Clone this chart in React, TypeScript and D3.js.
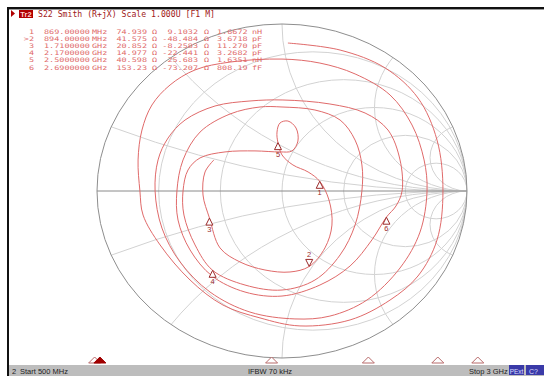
import React from 'react';
import * as d3 from 'd3';

const W = 544;
const H = 376;

const traceRe = [
  0.032, 0.314, 0.557, 0.735, 0.838, 0.870, 0.838, 0.735, 0.584, 0.368, 0.097, -0.119, -0.319, -0.497, -0.659, -0.751, -0.768, -0.778, -0.757, -0.703, -0.605, -0.470, -0.281, 0.0,
  0.205, 0.395, 0.584, 0.703, 0.768, 0.784, 0.746, 0.638, 0.459, 0.259, 0.070, -0.173, -0.389, -0.551, -0.649, -0.686, -0.670, -0.616, -0.524, -0.362, -0.173, 0.005,
  0.259, 0.449, 0.573, 0.638, 0.649, 0.616, 0.564, 0.486, 0.368, 0.205, 0.0, -0.200, -0.378, -0.497, -0.562, -0.568, -0.535, -0.443, -0.281, -0.119, 0.0,
  0.178, 0.314, 0.395, 0.432, 0.432, 0.395, 0.314, 0.178, 0.0, -0.200, -0.375, -0.470, -0.530, -0.535, -0.508, -0.443, -0.308, -0.146, -0.011,
  0.054, 0.086, 0.076, 0.032, -0.011, -0.027, -0.022, 0.0, 0.059, 0.141, 0.204, 0.254, 0.270, 0.232, 0.147, 0.043, -0.092, -0.227, -0.335, -0.392, -0.427, -0.416, -0.368,
];
const traceIm = [
  0.886, 0.844, 0.737, 0.557, 0.305, 0.0, -0.293, -0.509, -0.653, -0.772, -0.808, -0.760, -0.683, -0.533, -0.323, -0.144, 0.0, 0.186, 0.365, 0.515, 0.635, 0.725, 0.772, 0.790,
  0.766, 0.701, 0.575, 0.395, 0.186, 0.0, -0.246, -0.461, -0.653, -0.749, -0.766, -0.725, -0.605, -0.425, -0.222, 0.0, 0.186, 0.317, 0.425, 0.509, 0.539, 0.545,
  0.521, 0.467, 0.365, 0.186, 0.0, -0.090, -0.157, -0.293, -0.449, -0.563, -0.629, -0.605, -0.509, -0.353, -0.174, 0.0, 0.186, 0.353, 0.461, 0.503, 0.503,
  0.485, 0.425, 0.305, 0.156, 0.0, -0.204, -0.383, -0.533, -0.593, -0.563, -0.475, -0.323, -0.144, 0.0, 0.126, 0.198, 0.234, 0.240, 0.234,
  0.240, 0.299, 0.377, 0.419, 0.407, 0.353, 0.290, 0.216, 0.156, 0.114, 0.058, -0.054, -0.204, -0.341, -0.452, -0.485, -0.473, -0.425, -0.341, -0.162, -0.024, 0.114, 0.186,
];

// Markers
const markerIds = ['1', '>2', '3', '4', '5', '6'];
const markerNums = ['1', '2', '3', '4', '5', '6'];
const markerGHz = [0.869, 0.894, 1.71, 2.17, 2.5, 2.69];
const markerFreqText = ['869.00000', '894.00000', '1.7100000', '2.1700000', '2.5000000', '2.6900000'];
const markerFreqUnit = ['MHz', 'MHz', 'GHz', 'GHz', 'GHz', 'GHz'];
const markerR = [74.939, 41.575, 20.852, 14.977, 40.598, 153.23];
const markerX = [9.1032, -48.484, -8.2583, -22.441, 25.683, -73.207];
const markerRText = ['74.939', '41.575', '20.852', '14.977', '40.598', '153.23'];
const markerXText = ['9.1032', '-48.484', '-8.2583', '-22.441', '25.683', '-73.207'];
const markerLCText = ['1.6672', '3.6718', '11.270', '3.2682', '1.6351', '808.19'];
const markerLCUnit = ['nH', 'pF', 'pF', 'pF', 'nH', 'fF'];
const activeMarker = 1;
const Z0 = 50;

// Smith grid values
const resistanceCircles = [0.2, 0.5, 1, 2, 5];
const reactanceArcs = [0.2, 0.5, 1, 2, 5];

const headerText = 'S22 Smith (R+jX) Scale 1.000U [F1 M]';
const startText = 'Start 500 MHz';
const ifbwText = 'IFBW 70 kHz';
const stopText = 'Stop 3 GHz';
const freqStart = 0.5;
const freqStop = 3;

const MONO = '"DejaVu Sans Mono", "Liberation Mono", monospace';
const SANS = '"Liberation Sans", Arial, sans-serif';
const CH = 5.1; // character cell width of the table font

function toGamma(r: number, x: number): [number, number] {
  const zr = r / Z0;
  const zi = x / Z0;
  const nr = zr - 1;
  const ni = zi;
  const dr = zr + 1;
  const di = zi;
  const den = dr * dr + di * di;
  return [(nr * dr + ni * di) / den, (ni * dr - nr * di) / den];
}

function Cell(props: { x: number; y: number; s: string; end?: boolean }) {
  const { x, y, s, end } = props;
  return (
    <text
      x={x}
      y={y}
      textAnchor={end ? 'end' : 'start'}
      textLength={s.length * CH}
      lengthAdjust="spacingAndGlyphs"
    >
      {s}
    </text>
  );
}

export default function App() {
  const sx = d3.scaleLinear().domain([-1, 1]).range([97, 467]);
  const sy = d3.scaleLinear().domain([-1, 1]).range([358, 24]);
  const fx = d3.scaleLinear().domain([freqStart, freqStop]).range([17, 543]);

  const pts: [number, number][] = traceRe.map((r, i) => [r, traceIm[i]]);
  const line = d3
    .line<[number, number]>()
    .x((d) => sx(d[0]))
    .y((d) => sy(d[1]))
    .curve(d3.curveCatmullRom.alpha(0.5));

  const cx0 = sx(0);
  const cy0 = sy(0);
  const RX = sx(1) - sx(0);
  const RY = sy(0) - sy(1);

  const rowY = (i: number) => 33.5 + i * 7.2;

  return (
    <svg
      width={W}
      height={H}
      style={{ position: 'absolute', left: 0, top: 0, background: '#fff' }}
    >
      <defs>
        <clipPath id="unit">
          <ellipse cx={cx0} cy={cy0} rx={RX} ry={RY} />
        </clipPath>
      </defs>
      <rect x={0} y={0} width={W} height={H} fill="#fff" />

      {/* grid */}
      <g clipPath="url(#unit)" fill="none" stroke="#d2d2d2" strokeWidth={1}>
        {resistanceCircles.map((r) => {
          const c = r / (1 + r);
          const rad = 1 / (1 + r);
          return (
            <ellipse
              key={'r' + r}
              cx={sx(c)}
              cy={cy0}
              rx={sx(c + rad) - sx(c)}
              ry={sy(0) - sy(rad)}
            />
          );
        })}
        {reactanceArcs.flatMap((x) =>
          [1, -1].map((s) => (
            <ellipse
              key={'x' + x * s}
              cx={sx(1)}
              cy={sy(s / x)}
              rx={sx(1 / x) - sx(0)}
              ry={sy(0) - sy(1 / x)}
            />
          ))
        )}
      </g>
      <line x1={sx(-1)} x2={sx(1)} y1={cy0} y2={cy0} stroke="#8a8a8a" strokeWidth={1} />
      <ellipse cx={cx0} cy={cy0} rx={RX} ry={RY} fill="none" stroke="#8e8e8e" strokeWidth={1} />

      {/* trace */}
      <path d={line(pts) || ''} fill="none" stroke="#e06a6a" strokeWidth={1} />

      {/* markers on trace */}
      {markerR.map((r, i) => {
        const [gr, gi] = toGamma(r, markerX[i]);
        const px = sx(gr);
        const py = sy(gi);
        const active = i === activeMarker;
        const tri = active
          ? `M${px},${py} L${px - 3.5},${py - 7} L${px + 3.5},${py - 7} Z`
          : `M${px},${py} L${px - 3.5},${py + 7} L${px + 3.5},${py + 7} Z`;
        return (
          <g key={'m' + i}>
            <path d={tri} fill="#fff" stroke="#9a2a2a" strokeWidth={1} />
            <text
              x={px}
              y={active ? py - 9 : py + 14}
              textAnchor="middle"
              fontFamily={SANS}
              fontSize={7.5}
              fill="#9a2a2a"
            >
              {markerNums[i]}
            </text>
          </g>
        );
      })}

      {/* marker table */}
      <g fontFamily={MONO} fontSize={6.2} fill="#e06a6a">
        {markerIds.map((id, i) => (
          <g key={'row' + i}>
            <Cell x={34} y={rowY(i)} s={id} end />
            <Cell x={44} y={rowY(i)} s={markerFreqText[i]} />
            <Cell x={92} y={rowY(i)} s={markerFreqUnit[i]} />
            <Cell x={147} y={rowY(i)} s={markerRText[i]} end />
            <Cell x={152} y={rowY(i)} s={'Ω'} />
            <Cell x={198} y={rowY(i)} s={markerXText[i]} end />
            <Cell x={204} y={rowY(i)} s={'Ω'} />
            <Cell x={217} y={rowY(i)} s={markerLCText[i]} />
            <Cell x={252} y={rowY(i)} s={markerLCUnit[i]} />
          </g>
        ))}
      </g>

      {/* frame and header */}
      <rect x={8} y={7} width={W - 8} height={2} fill="#111" />
      <rect x={8} y={9} width={W - 8} height={1} fill="#9a9a9a" />
      <rect x={7} y={7} width={2} height={H - 7} fill="#111" />
      <path d="M11,10 L15,13.5 L11,17 Z" fill="#b00000" />
      <rect x={19} y={10} width={14} height={8} fill="#b00000" />
      <text x={26} y={17} textAnchor="middle" fontFamily={SANS} fontSize={7.5} fontWeight="bold" fill="#ffd0d0">
        Tr2
      </text>
      <text
        x={38}
        y={17}
        fontFamily={MONO}
        fontSize={8}
        fill="#a01818"
        textLength={177}
        lengthAdjust="spacingAndGlyphs"
      >
        {headerText}
      </text>

      {/* marker position triangles on frequency axis */}
      {markerGHz.map((f, i) => {
        const x = fx(f);
        const active = i === activeMarker;
        return (
          <path
            key={'ft' + i}
            d={`M${x},357 L${x - 6},363 L${x + 6},363 Z`}
            fill={active ? '#a00000' : '#fff'}
            stroke={active ? '#a00000' : '#b86a6a'}
            strokeWidth={1}
          />
        );
      })}

      {/* status bar */}
      <rect x={9} y={365} width={W - 9} height={H - 365} fill="#bdbdbd" />
      <text x={12} y={374} fontFamily={SANS} fontSize={7.5} fill="#222">2</text>
      <text x={20} y={374} fontFamily={SANS} fontSize={7.5} fill="#222">{startText}</text>
      <text x={270} y={374} textAnchor="middle" fontFamily={SANS} fontSize={7.5} fill="#222">{ifbwText}</text>
      <text x={469} y={374} fontFamily={SANS} fontSize={7.5} fill="#222">{stopText}</text>
      <rect x={509} y={365} width={15} height={10} fill="#3a3aa8" />
      <text x={516.5} y={373.5} textAnchor="middle" fontFamily={SANS} fontSize={6.5} fill="#dcdcff">PExt</text>
      <rect x={526} y={365} width={18} height={10} fill="#3a3aa8" />
      <text x={529} y={373.5} fontFamily={SANS} fontSize={7} fill="#dcdcff">C?</text>
    </svg>
  );
}
